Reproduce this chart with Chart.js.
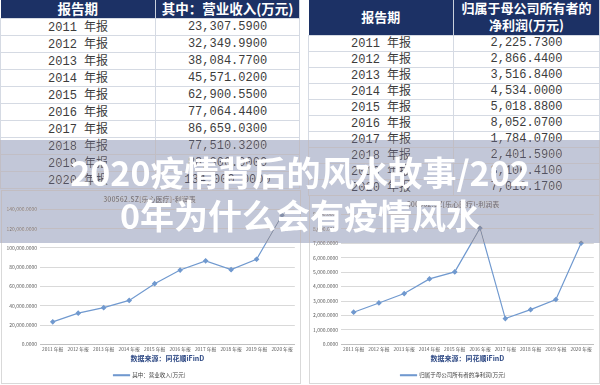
<!DOCTYPE html>
<html>
<head>
<meta charset="utf-8">
<script src="https://cdn.jsdelivr.net/npm/chart.js@4/dist/chart.umd.min.js"></script>
<style>
  body { margin: 0; width: 600px; height: 385px; overflow: hidden; background: #fff; position: relative; font-family: "Noto Sans CJK SC", sans-serif; }
  table.t { position: absolute; top: 0; border-collapse: collapse; table-layout: fixed; font-family: "Liberation Mono", monospace; font-size: 12px; color: #3c3c3c; }
  table.t td { border: 1px solid #d5dae3; text-align: center; padding: 0; white-space: nowrap; line-height: 1; }
  table.t td .cn { font-family: "Noto Sans CJK SC", sans-serif; margin-left: 7px; }
  table.t th { background: #1c3165; color: #fff; font-family: "Noto Sans CJK SC", sans-serif; font-weight: 700; padding: 0; line-height: 1.3; border-right: 1px solid #c9d0dc; }
  .box { position: absolute; border: 1px solid #d9d9d9; background: #fff; overflow: hidden; }
  .band { position: absolute; left: 0; top: 140px; width: 600px; height: 103px; background: rgba(95, 108, 165, 0.38); backdrop-filter: sepia(0.5); }
  .headline { position: absolute; left: 0; top: 150px; width: 600px; text-align: center; color: #fff; font-weight: 700; font-size: 34px; line-height: 43px; font-family: "Noto Sans CJK SC", sans-serif; }
</style>
</head>
<body>
<table class="t" id="tbl-left" style="left:0;width:300px;"></table>
<table class="t" id="tbl-right" style="left:308px;width:292px;"></table>

<div class="box" style="left:1px;top:190px;width:298px;height:192px"><canvas id="c1" width="298" height="192"></canvas></div>
<div class="box" style="left:309px;top:195px;width:289px;height:187px"><canvas id="c2" width="289" height="187"></canvas></div>

<div class="band"></div>
<div class="headline">2020疫情背后的风水故事/202<br>0年为什么会有疫情风水</div>

<script>
// 报告期
const years = ['2011', '2012', '2013', '2014', '2015', '2016', '2017', '2018', '2019', '2020'];
const categories = years.map(y => y + ' 年报');

// 其中：营业收入(万元)
const revenue = [23307.59, 32349.99, 38084.77, 45571.02, 62900.55, 77064.44, 86659.03, 77510.32, 88300.00, 134000.00];
// 归属于母公司所有者的净利润(万元)
const netProfit = [2225.73, 2866.44, 3516.84, 4534.00, 5018.88, 8052.07, 1784.07, 2401.59, 3106.41, 7016.17];

// 纵轴范围
const revenueMax = 140000, revenueStep = 20000;
const profitMax = 9000, profitStep = 1000;

const chartTitle = '300562.SZ[乐心医疗]-利润表';
const sourceText = '数据来源：同花顺iFinD';
const revenueLabel = '其中：营业收入(万元)';
const profitLabel = '归属于母公司所有者的净利润(万元)';

function fmt(v) {
    return Number(v).toLocaleString('en-US', { minimumFractionDigits: 4, maximumFractionDigits: 4 });
}

// 表格
function renderTable(el, headHtml, headH, rowH, values, col1, headSize) {
    let html = '<colgroup><col style="width:' + col1 + 'px"><col></colgroup>';
    html += '<tr style="height:' + headH + 'px;font-size:' + headSize + 'px">' + headHtml + '</tr>';
    values.forEach((v, i) => {
        html += '<tr style="height:' + rowH + 'px"><td>' + years[i] + '<span class="cn">年报</span></td><td>' + fmt(v) + '</td></tr>';
    });
    el.innerHTML = html;
}
renderTable(document.getElementById('tbl-left'),
    '<th>报告期</th><th>其中：营业收入(万元)</th>', 18, 17, revenue, 155, 13.5);
renderTable(document.getElementById('tbl-right'),
    '<th>报告期</th><th>归属于母公司所有者的<br>净利润(万元)</th>', 35, 16, netProfit, 145, 13);

// 折线图
Chart.defaults.font.family = '"Noto Sans CJK SC", sans-serif';
Chart.defaults.color = '#595959';

function renderLineChart(id, label, data, maxV, step, yWidth) {
    const ctx = document.getElementById(id).getContext('2d');
    return new Chart(ctx, {
        type: 'line',
        data: {
            labels: categories,
            datasets: [{
                label: label,
                data: data,
                borderColor: '#7099cf',
                backgroundColor: '#7099cf',
                borderWidth: 1.2,
                pointStyle: 'rectRot',
                pointRadius: 2,
                tension: 0
            }]
        },
        options: {
            responsive: false,
            animation: false,
            layout: { padding: { left: 1, right: 4, top: 0, bottom: -5 } },
            plugins: {
                title: {
                    display: true,
                    text: chartTitle,
                    font: { size: 7 },
                    color: '#7f7f7f',
                    padding: { top: 4, bottom: 6 }
                },
                legend: {
                    position: 'bottom',
                    labels: { font: { size: 5.5 }, color: '#404040', boxWidth: 16, boxHeight: 1, padding: 1 }
                },
                tooltip: { enabled: false }
            },
            scales: {
                x: {
                    offset: true,
                    grid: { display: false, drawTicks: false },
                    border: { color: '#bfbfbf' },
                    ticks: { font: { size: 4.8 }, color: '#595959', maxRotation: 0, autoSkip: false, padding: 2 },
                    title: {
                        display: true,
                        text: sourceText,
                        font: { size: 7, weight: 'bold' },
                        color: '#2f4a85',
                        padding: { top: 0, bottom: 9 }
                    }
                },
                y: {
                    min: 0,
                    max: maxV,
                    afterFit: scale => { scale.width = yWidth; },
                    grid: { color: '#d9d9d9', drawTicks: false },
                    border: { display: false },
                    ticks: { stepSize: step, font: { size: 5 }, color: '#595959', padding: 3, callback: v => fmt(v) }
                }
            }
        }
    });
}

renderLineChart('c1', revenueLabel, revenue, revenueMax, revenueStep, 37);
renderLineChart('c2', profitLabel, netProfit, profitMax, profitStep, 30);
</script>
</body>
</html>
